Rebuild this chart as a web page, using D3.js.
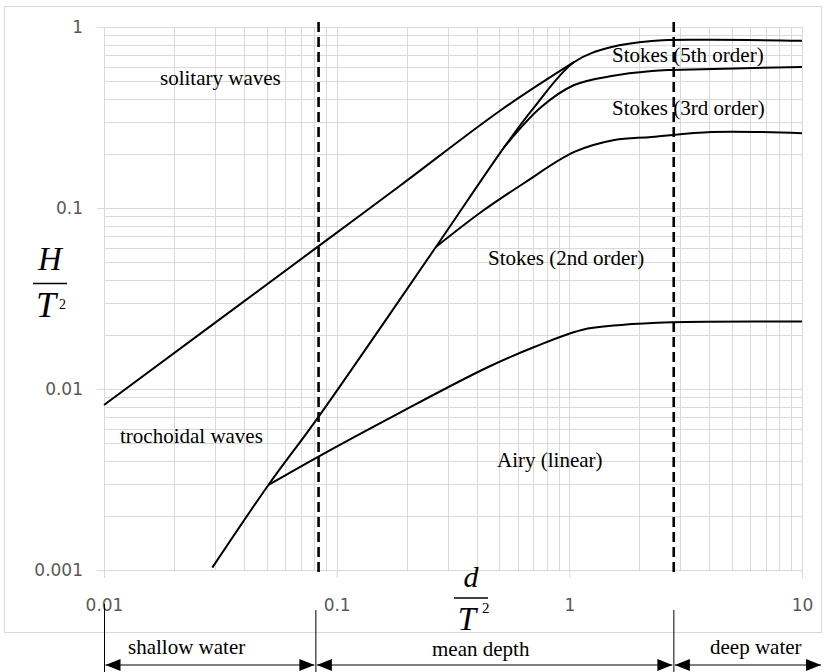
<!DOCTYPE html>
<html>
<head>
<meta charset="utf-8">
<script src="https://cdn.jsdelivr.net/npm/d3@7"></script>
<style>
  body { margin: 0; background: #fff; }
  .grid line { stroke: #d9d9d9; stroke-width: 1; }
  .axis path, .axis line { stroke: #d9d9d9; }
  .axis text { fill: #595959; font-family: "DejaVu Sans", sans-serif; font-size: 17px; }
  .lab { font-family: "Liberation Serif", "Times New Roman", serif; font-size: 21px; fill: #000; }
  .math { font-family: "Liberation Serif", "Times New Roman", serif; font-style: italic; fill: #000; }
  .sup { font-family: "Liberation Serif", "Times New Roman", serif; fill: #000; }
  .curve { fill: none; stroke: #000; stroke-width: 2; }
</style>
</head>
<body>
<svg width="827" height="672"></svg>
<script>
// tick values on both log axes
var xTicks = [0.01, 0.1, 1, 10];
var yTicks = [0.001, 0.01, 0.1, 1];

// solitary waves limit (joins the breaking curve near d/T2 = 1)
var solitaryX = [0.01, 0.0828, 0.189, 0.509, 1.05];
var solitaryY = [0.00816, 0.061, 0.134, 0.348, 0.641];

// breaking limit: steep line then top plateau
var breakingX = [0.0292, 0.0509, 0.0828, 0.267, 0.525, 0.707, 1.05, 1.52, 2.26, 3.71, 10];
var breakingY = [0.00103, 0.00295, 0.00691, 0.0609, 0.217, 0.361, 0.641, 0.775, 0.837, 0.85, 0.84];

// Stokes 5th / 3rd order boundary
var stokes53X = [0.525, 0.757, 1.05, 1.52, 2.26, 2.75, 10];
var stokes53Y = [0.217, 0.361, 0.478, 0.536, 0.571, 0.579, 0.601];

// Stokes 3rd / 2nd order boundary
var stokes32X = [0.267, 0.418, 0.64, 1.05, 1.56, 2.26, 4.09, 10];
var stokes32Y = [0.0609, 0.095, 0.1375, 0.204, 0.2375, 0.2467, 0.263, 0.259];

// Stokes 2nd order / Airy boundary
var stokes2AX = [0.0509, 0.0828, 0.189, 0.448, 0.707, 1.13, 1.67, 2.75, 10];
var stokes2AY = [0.00295, 0.00421, 0.00746, 0.01323, 0.01706, 0.0212, 0.0226, 0.0234, 0.0236];

// dashed depth limits (shallow / deep)
var depthLimits = [0.0836, 2.81];

// zones under the axis
var zoneEdges = [0.01, 0.081, 2.8];
var zoneNames = ["shallow water", "mean depth", "deep water"];

var svg = d3.select("svg"),
    margin = {top: 27, right: 25, bottom: 102, left: 104},
    width = +svg.attr("width") - margin.left - margin.right,
    height = +svg.attr("height") - margin.top - margin.bottom;

var x = d3.scaleLog().domain([0.01, 10]).range([0, width]),
    y = d3.scaleLog().domain([0.001, 1]).range([height, 0]);

// outer frame
svg.append("rect")
    .attr("x", 4.5).attr("y", 6.5)
    .attr("width", 817).attr("height", 626)
    .attr("fill", "none").attr("stroke", "#d9d9d9");

var g = svg.append("g")
    .attr("transform", "translate(" + margin.left + "," + margin.top + ")");

// grid (major + minor)
var grid = g.append("g").attr("class", "grid");
grid.selectAll(".gx").data(x.ticks()).enter().append("line")
    .attr("x1", function(d) { return Math.round(x(d)) + 0.5; })
    .attr("x2", function(d) { return Math.round(x(d)) + 0.5; })
    .attr("y1", 0).attr("y2", height);
grid.selectAll(".gy").data(y.ticks()).enter().append("line")
    .attr("y1", function(d) { return Math.round(y(d)) + 0.5; })
    .attr("y2", function(d) { return Math.round(y(d)) + 0.5; })
    .attr("x1", 0).attr("x2", width);

// axes
g.append("g")
    .attr("class", "axis")
    .call(d3.axisLeft(y).tickValues(yTicks).tickFormat(function(d) { return d; })
      .tickSize(7).tickPadding(14))
    .select(".domain").remove();

g.append("g")
    .attr("class", "axis")
    .attr("transform", "translate(0," + height + ")")
    .call(d3.axisBottom(x).tickValues(xTicks).tickFormat(function(d) { return d; })
      .tickSize(8).tickPadding(21))
    .select(".domain").remove();

// curves
var line = d3.line()
    .x(function(d) { return x(d[0]); })
    .y(function(d) { return y(d[1]); })
    .curve(d3.curveCatmullRom.alpha(0.5));

function pairs(xs, ys) {
  return xs.map(function(v, i) { return [v, ys[i]]; });
}

[[solitaryX, solitaryY], [breakingX, breakingY], [stokes53X, stokes53Y],
 [stokes32X, stokes32Y], [stokes2AX, stokes2AY]].forEach(function(s) {
  g.append("path")
      .datum(pairs(s[0], s[1]))
      .attr("class", "curve")
      .attr("d", line);
});

// dashed limits
g.selectAll(".limit")
  .data(depthLimits)
  .enter().append("line")
    .attr("class", "limit")
    .attr("x1", function(d) { return x(d); })
    .attr("x2", function(d) { return x(d); })
    .attr("y1", -5).attr("y2", height + 3)
    .attr("stroke", "#000")
    .attr("stroke-width", 2.6)
    .attr("stroke-dasharray", "10,5");

// region labels
var labels = [
  ["solitary waves", 160, 85],
  ["Stokes (5th order)", 612, 62],
  ["Stokes (3rd order)", 612, 115],
  ["Stokes (2nd order)", 488, 265],
  ["trochoidal waves", 120, 443],
  ["Airy (linear)", 497, 467]
];
svg.selectAll(".region")
  .data(labels)
  .enter().append("text")
    .attr("class", "lab region")
    .attr("x", function(d) { return d[1]; })
    .attr("y", function(d) { return d[2]; })
    .text(function(d) { return d[0]; });

// axis titles H/T^2 and d/T^2
function fraction(top, cx, topBase, topSize, barY, barW, botBase, botSize, supX, supBase, supSize) {
  var f = svg.append("g");
  f.append("text").attr("class", "math")
      .attr("x", cx).attr("y", topBase)
      .attr("text-anchor", "middle")
      .style("font-size", topSize + "px")
      .text(top);
  f.append("line")
      .attr("x1", cx - barW / 2).attr("x2", cx + barW / 2)
      .attr("y1", barY).attr("y2", barY)
      .attr("stroke", "#000").attr("stroke-width", 1.5);
  f.append("text").attr("class", "math")
      .attr("x", cx - 4).attr("y", botBase)
      .attr("text-anchor", "middle")
      .style("font-size", botSize + "px")
      .text("T");
  f.append("text").attr("class", "sup")
      .attr("x", supX).attr("y", supBase)
      .style("font-size", supSize + "px")
      .text("2");
}
fraction("H", 50, 270, 33, 283.5, 34, 317, 36, 59, 309, 14);
fraction("d", 471, 587, 30, 598, 34, 630, 33, 482, 613, 15);

// zone annotation under the chart
var zx = zoneEdges.map(function(d) { return margin.left + x(d); });
zx.push(822);
var arrowY = 665;
var ann = svg.append("g");
[0, 1, 2].forEach(function(i) {
  ann.append("line")
      .attr("x1", zx[i] + 0.5).attr("x2", zx[i] + 0.5)
      .attr("y1", i === 0 ? 604 : 610).attr("y2", 672)
      .attr("stroke", "#000").attr("stroke-width", 1);
});
zoneNames.forEach(function(name, i) {
  var a = zx[i] + 1.5, b = zx[i + 1] - 1;
  ann.append("line")
      .attr("x1", a).attr("x2", b)
      .attr("y1", arrowY).attr("y2", arrowY)
      .attr("stroke", "#000").attr("stroke-width", 1);
  ann.append("path")
      .attr("d", "M" + a + "," + arrowY + "L" + (a + 15) + "," + (arrowY - 6) + "L" + (a + 15) + "," + (arrowY + 6) + "Z");
  ann.append("path")
      .attr("d", "M" + b + "," + arrowY + "L" + (b - 15) + "," + (arrowY - 6) + "L" + (b - 15) + "," + (arrowY + 6) + "Z");
});
var zoneText = [128, 432, 710];
ann.selectAll(".zone")
  .data(zoneNames)
  .enter().append("text")
    .attr("class", "lab zone")
    .attr("x", function(d, i) { return zoneText[i]; })
    .attr("y", function(d, i) { return i === 1 ? 656 : 654; })
    .text(function(d) { return d; });
</script>
</body>
</html>
